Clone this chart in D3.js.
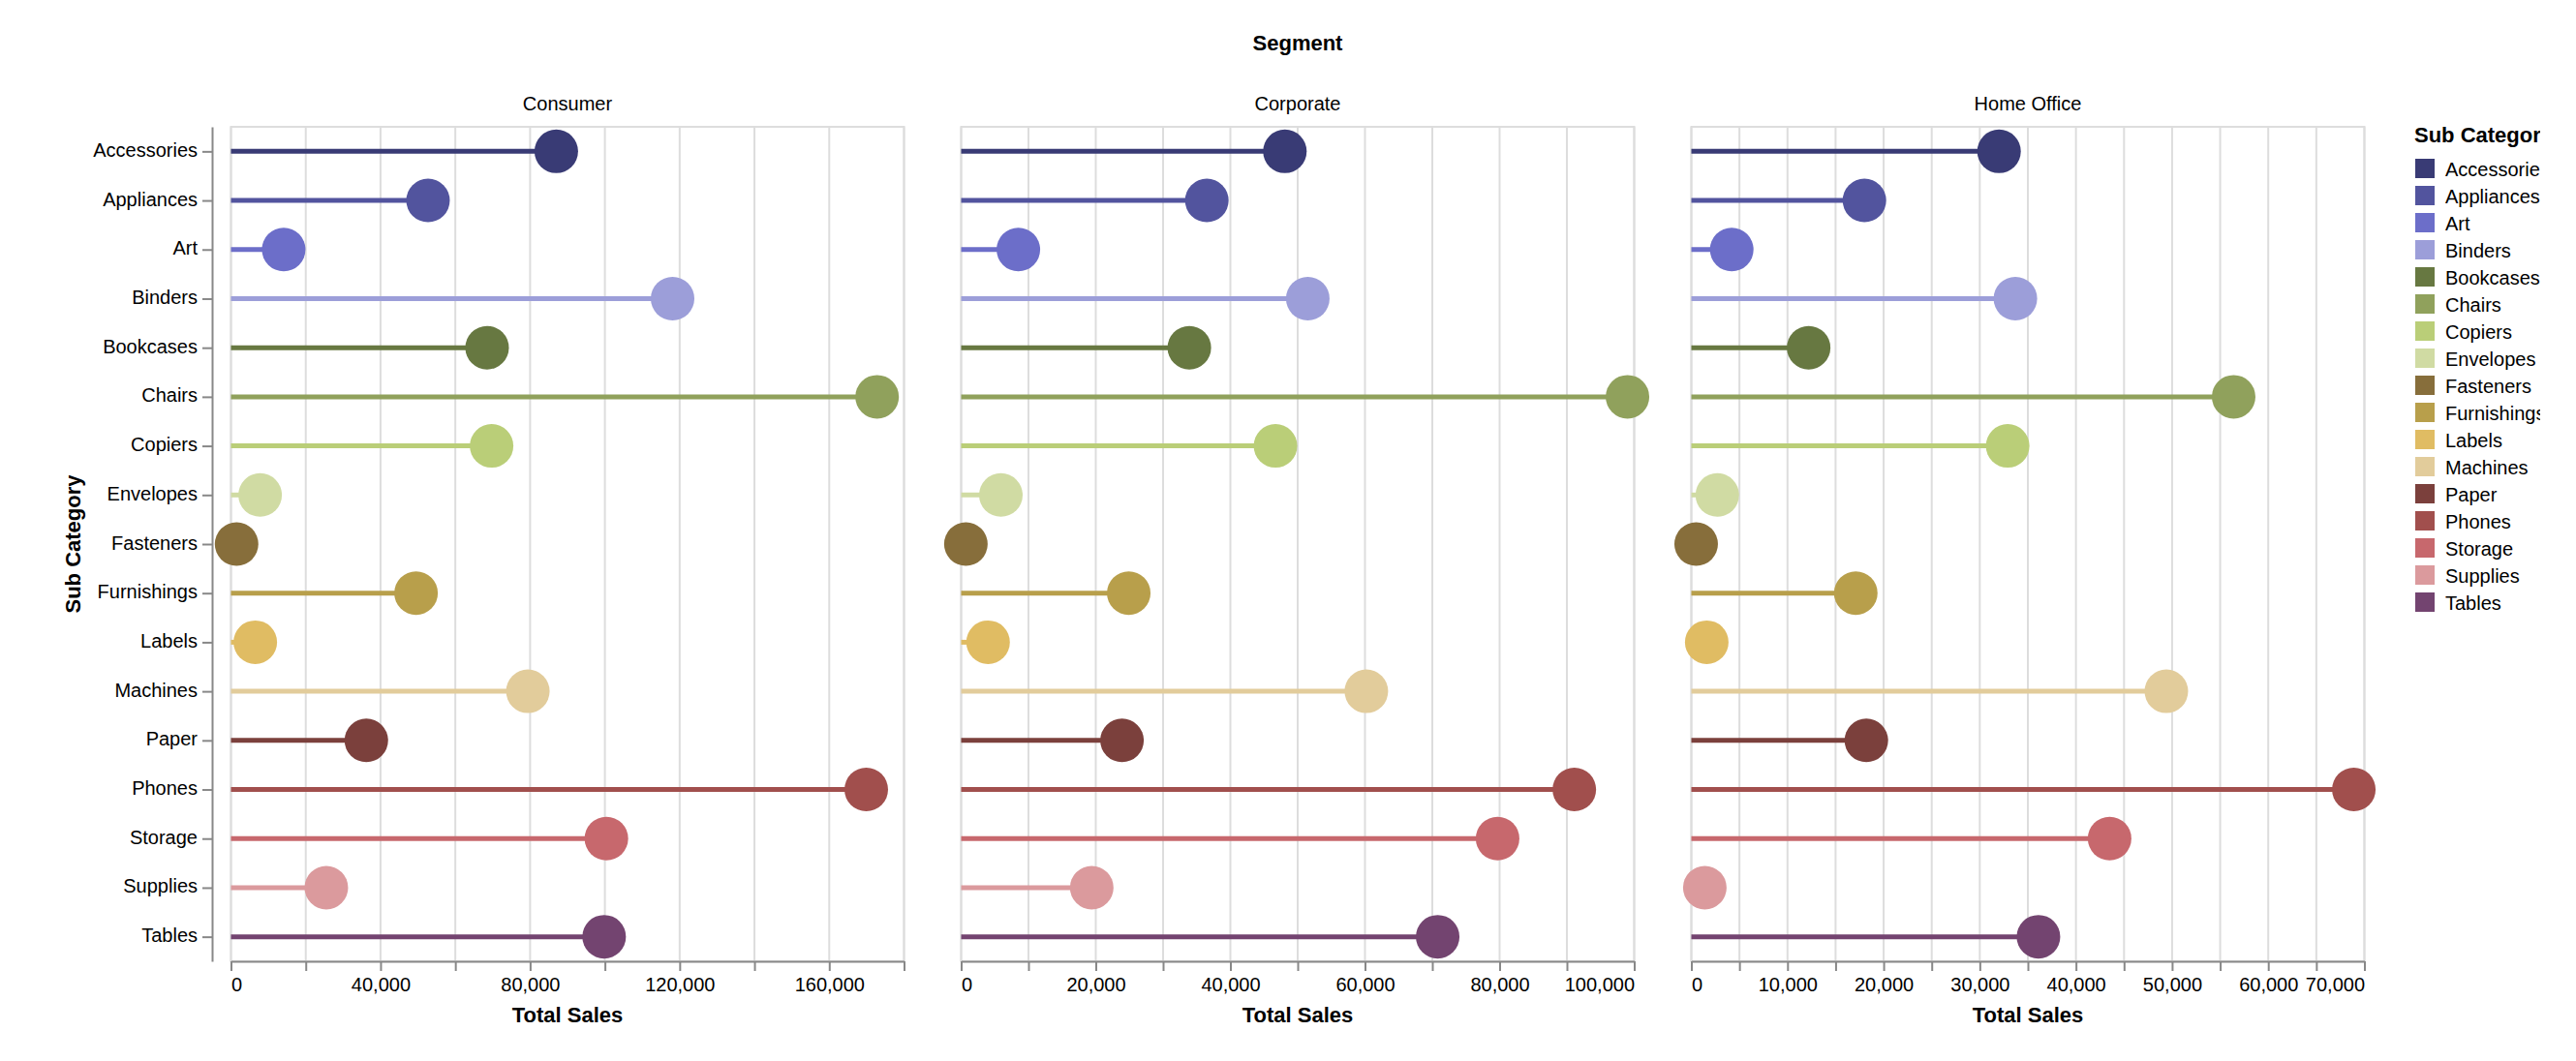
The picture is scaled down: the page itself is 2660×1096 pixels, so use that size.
<!DOCTYPE html>
<html>
<head>
<meta charset="utf-8">
<script src="https://cdn.jsdelivr.net/npm/d3@7"></script>
<style>
  body { margin: 0; background: #fff; }
  svg { display: block; font-family: "Liberation Sans", Arial, Helvetica, sans-serif; }
</style>
</head>
<body>
<svg width="2623" height="1096"></svg>
<script>
const subCategories = ["Accessories", "Appliances", "Art", "Binders", "Bookcases", "Chairs", "Copiers",
  "Envelopes", "Fasteners", "Furnishings", "Labels", "Machines", "Paper", "Phones", "Storage", "Supplies", "Tables"];
const segments = ["Consumer", "Corporate", "Home Office"];

// total sales per sub category, one list per segment
const consumerSales = [87000, 52700, 14100, 118100, 68500, 172800, 69700, 7800, 1500, 49500, 6500, 79400, 36200, 169900, 100400, 25500, 99800];
const corporateSales = [48100, 36500, 8500, 51500, 33900, 99000, 46700, 5900, 700, 24900, 4000, 60200, 23900, 91100, 79700, 19400, 70800];
const homeOfficeSales = [32000, 18000, 4200, 33700, 12200, 56400, 32900, 2700, 500, 17100, 1600, 49400, 18200, 68900, 43500, 1400, 36100];
const salesBySegment = [consumerSales, corporateSales, homeOfficeSales];

// category20b
const palette = ["#393b79", "#5254a3", "#6b6ecf", "#9c9ede", "#637939", "#8ca252", "#b5cf6b", "#cedb9c",
  "#8c6d31", "#bd9e39", "#e7ba52", "#e7cb94", "#843c39", "#ad494a", "#d6616b", "#e7969c", "#7b4173"];

// the reference was captured on a wide-gamut screen, shift colours the same way
function toP3(hex) {
  const c = d3.rgb(hex);
  const lin = v => { v /= 255; return v <= 0.04045 ? v / 12.92 : Math.pow((v + 0.055) / 1.055, 2.4); };
  const enc = v => 255 * (v <= 0.0031308 ? 12.92 * v : 1.055 * Math.pow(v, 1 / 2.4) - 0.055);
  const r = lin(c.r), g = lin(c.g), b = lin(c.b);
  return d3.rgb(enc(0.8225 * r + 0.1774 * g), enc(0.0332 * r + 0.9669 * g),
    enc(0.0171 * r + 0.0724 * g + 0.9108 * b)).formatHex();
}

const svg = d3.select("svg");

const plotTop = 131, plotBottom = 993;
const panelW = 695, gap = 59, left0 = 238.5;

const color = d3.scaleOrdinal().domain(subCategories).range(palette.map(toP3));

const y = d3.scalePoint().domain(subCategories).range([plotTop, plotBottom]).padding(0.5);

const fmt = d3.format(",");

// overall title
const totalRight = left0 + segments.length * panelW + (segments.length - 1) * gap;
svg.append("text")
  .attr("x", (left0 + totalRight) / 2)
  .attr("y", 52)
  .attr("text-anchor", "middle")
  .attr("font-size", 22)
  .attr("font-weight", "bold")
  .text("Segment");

segments.forEach((seg, si) => {
  const values = salesBySegment[si];
  const x0 = left0 + si * (panelW + gap);
  const g = svg.append("g").attr("transform", `translate(${x0},0)`);

  const x = d3.scaleLinear()
    .domain([0, d3.max(values)])
    .range([0, panelW])
    .nice();

  const ticks = x.ticks();

  g.append("text")
    .attr("x", panelW / 2)
    .attr("y", 113.5)
    .attr("text-anchor", "middle")
    .attr("font-size", 20)
    .text(seg);

  g.selectAll("line.grid")
    .data(ticks)
    .enter()
    .append("line")
    .attr("class", "grid")
    .attr("x1", d => x(d))
    .attr("x2", d => x(d))
    .attr("y1", plotTop)
    .attr("y2", plotBottom)
    .attr("stroke", "#ddd")
    .attr("stroke-width", 2);

  g.append("rect")
    .attr("x", 0)
    .attr("y", plotTop)
    .attr("width", panelW)
    .attr("height", plotBottom - plotTop)
    .attr("fill", "none")
    .attr("stroke", "#ddd")
    .attr("stroke-width", 2);

  const rows = subCategories.map((s, i) => ({ sub: s, value: values[i] }));

  g.selectAll("line.stem")
    .data(rows)
    .enter()
    .append("line")
    .attr("class", "stem")
    .attr("x1", x(0))
    .attr("x2", d => x(d.value))
    .attr("y1", d => y(d.sub))
    .attr("y2", d => y(d.sub))
    .attr("stroke", d => color(d.sub))
    .attr("stroke-width", 5);

  g.selectAll("circle")
    .data(rows)
    .enter()
    .append("circle")
    .attr("cx", d => x(d.value))
    .attr("cy", d => y(d.sub))
    .attr("r", 22.5)
    .attr("fill", d => color(d.sub));

  // x axis
  const axis = g.append("g")
    .attr("transform", `translate(0,${plotBottom})`)
    .call(d3.axisBottom(x).tickValues(ticks).tickFormat(fmt).tickSize(10).tickSizeOuter(0).tickPadding(7));
  axis.attr("font-family", null);
  axis.select(".domain").attr("stroke", "#888").attr("stroke-width", 2);
  axis.selectAll(".tick line").attr("stroke", "#888").attr("stroke-width", 2);
  const labels = axis.selectAll(".tick text")
    .attr("fill", "#000")
    .attr("font-size", 20);
  const nodes = labels.nodes();
  d3.select(nodes[0]).attr("text-anchor", "start");
  d3.select(nodes[nodes.length - 1]).attr("text-anchor", "end");

  // hide every other label while labels overlap
  let shown = nodes.slice();
  const overlaps = list => list.some((n, i) => {
    if (i === 0) return false;
    const a = list[i - 1].getBoundingClientRect(), b = n.getBoundingClientRect();
    return a.right > b.left;
  });
  while (shown.length > 2 && overlaps(shown)) {
    shown.forEach((n, i) => { if (i % 2 === 1) d3.select(n).attr("display", "none"); });
    shown = shown.filter((n, i) => i % 2 === 0);
  }

  g.append("text")
    .attr("x", panelW / 2)
    .attr("y", 1056)
    .attr("text-anchor", "middle")
    .attr("font-size", 22)
    .attr("font-weight", "bold")
    .text("Total Sales");
});

// shared y axis
const yAxis = svg.append("g")
  .attr("transform", "translate(219,0)")
  .call(d3.axisLeft(y).tickSize(10).tickSizeOuter(0).tickPadding(5));
yAxis.attr("font-family", null);
yAxis.select(".domain").attr("stroke", "#888").attr("stroke-width", 2);
yAxis.selectAll(".tick line").attr("stroke", "#888").attr("stroke-width", 2);
yAxis.selectAll(".tick text")
  .attr("fill", "#000")
  .attr("font-size", 20)
  .attr("dy", "0.25em");

svg.append("text")
  .attr("transform", `translate(83,${(plotTop + plotBottom) / 2}) rotate(-90)`)
  .attr("text-anchor", "middle")
  .attr("font-size", 22)
  .attr("font-weight", "bold")
  .text("Sub Category");

// legend (cut off at the right edge, as in the source view)
const legend = svg.append("g").attr("transform", "translate(2493,0)");
legend.append("text")
  .attr("x", 0)
  .attr("y", 147)
  .attr("font-size", 22)
  .attr("font-weight", "bold")
  .text("Sub Category");

const items = legend.selectAll("g.item")
  .data(subCategories)
  .enter()
  .append("g")
  .attr("class", "item")
  .attr("transform", (d, i) => `translate(0,${164 + i * 28})`);

items.append("rect")
  .attr("x", 1)
  .attr("y", 0)
  .attr("width", 20)
  .attr("height", 20)
  .attr("fill", d => color(d));

items.append("text")
  .attr("x", 32)
  .attr("y", 17.5)
  .attr("font-size", 20)
  .text(d => d);
</script>
</body>
</html>
